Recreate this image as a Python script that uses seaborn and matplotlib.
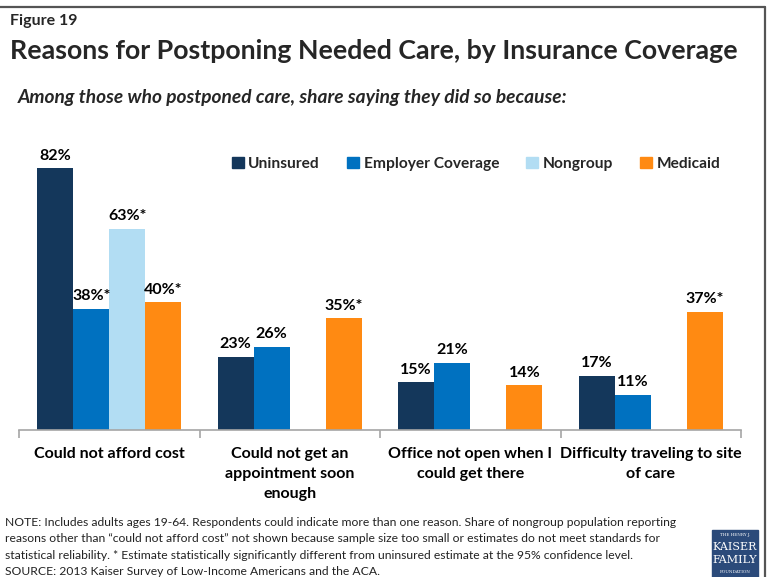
import numpy as np
import pandas as pd
import matplotlib
matplotlib.use("Agg")
import matplotlib.pyplot as plt
from matplotlib.patches import Rectangle
from matplotlib.lines import Line2D
import seaborn as sns

# Survey results: share (%) of people who postponed care, by reason and coverage
reasons = [
    "Could not afford cost",
    "Could not get an\nappointment soon\nenough",
    "Office not open when I\ncould get there",
    "Difficulty traveling to site\nof care",
]
coverage = ["Uninsured", "Employer Coverage", "Nongroup", "Medicaid"]
uninsured = [82, 23, 15, 17]
employer = [38, 26, 21, 11]
nongroup = [63, np.nan, np.nan, np.nan]
medicaid = [40, 35, 14, 37]
# significantly different from the uninsured estimate
uninsured_sig = [False, False, False, False]
employer_sig = [True, False, False, False]
nongroup_sig = [True, False, False, False]
medicaid_sig = [True, True, False, True]

colors = ["#14375B", "#0071C0", "#B2DDF3", "#FF8A12"]

series = {
    "Uninsured": (uninsured, uninsured_sig),
    "Employer Coverage": (employer, employer_sig),
    "Nongroup": (nongroup, nongroup_sig),
    "Medicaid": (medicaid, medicaid_sig),
}
rows = []
for name, (vals, sig) in series.items():
    for r, v, s in zip(reasons, vals, sig):
        rows.append({"reason": r, "coverage": name, "share": v, "sig": s})
df = pd.DataFrame(rows)

sns.set_theme(style="white")
FONT = ["Lato", "DejaVu Sans"]
plt.rcParams["font.family"] = FONT

W, H = 768, 577
fig = plt.figure(figsize=(W / 100, H / 100), dpi=100)
ax = fig.add_axes([19 / W, 1 - 430 / H, (741 - 19) / W, (430 - 142.5) / H])

sns.barplot(data=df, x="reason", y="share", hue="coverage", order=reasons,
            hue_order=coverage, palette=colors, width=0.8, linewidth=0,
            saturation=1, ax=ax, legend=False)

ax.set_ylim(0, 90)
ax.set_xlim(-0.5, len(reasons) - 0.5)
ax.set_xlabel("")
ax.set_ylabel("")
ax.set_yticks([])
for s in ["top", "right", "left"]:
    ax.spines[s].set_visible(False)
ax.spines["bottom"].set_color("#A6A6A6")
ax.spines["bottom"].set_linewidth(1.2)

# category separators on the axis
ax.set_xticks(np.arange(-0.5, len(reasons), 1.0), minor=True)
ax.tick_params(axis="x", which="minor", length=6, width=1.2, color="#A6A6A6",
               direction="out", bottom=True)
ax.tick_params(axis="x", which="major", length=0, pad=12)
ax.set_xticks(range(len(reasons)))
ax.set_xticklabels(reasons, fontsize=11.5, fontweight="bold", color="black",
                   linespacing=1.55, va="top")

# value labels above each bar
for container, name in zip(ax.containers, coverage):
    vals, sig = series[name]
    for bar in container.patches:
        if bar is None or np.isnan(bar.get_height()):
            continue
        i = int(round(bar.get_x() + bar.get_width() / 2))
        v = vals[i]
        text = f"{int(v)}%" + ("*" if sig[i] else "")
        ax.annotate(text, (bar.get_x() + bar.get_width() / 2, v),
                    xytext=(0, 4), textcoords="offset points", ha="center",
                    va="bottom", fontsize=11.5, fontweight="bold",
                    color="black")

# legend row
handles = [Rectangle((0, 0), 1, 1, color=c) for c in colors]
leg = fig.legend(handles, coverage, loc="center left",
                 bbox_to_anchor=(218 / W, 1 - 164 / H), ncol=4, frameon=False,
                 prop={"family": FONT, "weight": "bold", "size": 11.2},
                 handlelength=0.75, handleheight=0.75, handletextpad=0.3,
                 columnspacing=1.75)

# titles
fig.text(10 / W, 1 - 20.5 / H, "Figure 19", fontsize=11.5, fontweight="bold",
         va="center", ha="left")
fig.text(10 / W, 1 - 51 / H,
         "Reasons for Postponing Needed Care, by Insurance Coverage",
         fontsize=19.3, fontweight="bold", va="center", ha="left")
fig.text(18 / W, 1 - 97 / H,
         "Among those who postponed care, share saying they did so because:",
         fontsize=13.8, fontweight="bold", style="italic", va="center",
         ha="left")

# notes
note = ("NOTE: Includes adults ages 19-64. Respondents could indicate more than one reason. "
        "Share of nongroup population reporting\n"
        "reasons other than \u201ccould not afford cost\u201d not shown because sample size "
        "too small or estimates do not meet standards for\n"
        "statistical reliability. * Estimate statistically significantly different from "
        "uninsured estimate at the 95% confidence level.\n"
        "SOURCE: 2013 Kaiser Survey of Low-Income Americans and the ACA.")
fig.text(5 / W, 1 - 517 / H, note, fontsize=8.75, va="top", ha="left",
         linespacing=1.6, color="#222222")

# foundation logo block
logo = Rectangle((712 / W, 0), 46 / W, 47 / H, transform=fig.transFigure,
                 color="#2B4A7A", zorder=5)
fig.add_artist(logo)
fig.text(735 / W, 1 - 535 / H, "THE HENRY J.", fontsize=3, color="white",
         ha="center", va="center", family="DejaVu Serif", zorder=6)
fig.text(735 / W, 1 - 547 / H, "KAISER", fontsize=8, color="white",
         ha="center", va="center", family="DejaVu Serif", zorder=6)
fig.text(735 / W, 1 - 560 / H, "FAMILY", fontsize=8, color="white",
         ha="center", va="center", family="DejaVu Serif", zorder=6)
fig.text(735 / W, 1 - 572 / H, "FOUNDATION", fontsize=3, color="white",
         ha="center", va="center", family="DejaVu Serif", zorder=6)

# slide frame
fig.add_artist(Line2D([0, 765 / W], [1 - 7 / H, 1 - 7 / H],
                      transform=fig.transFigure, color="#555555", lw=1.6))
fig.add_artist(Line2D([765 / W, 765 / W], [0, 1 - 7 / H],
                      transform=fig.transFigure, color="#555555", lw=1.6))

fig.savefig("out.png", dpi=100, facecolor="white")
